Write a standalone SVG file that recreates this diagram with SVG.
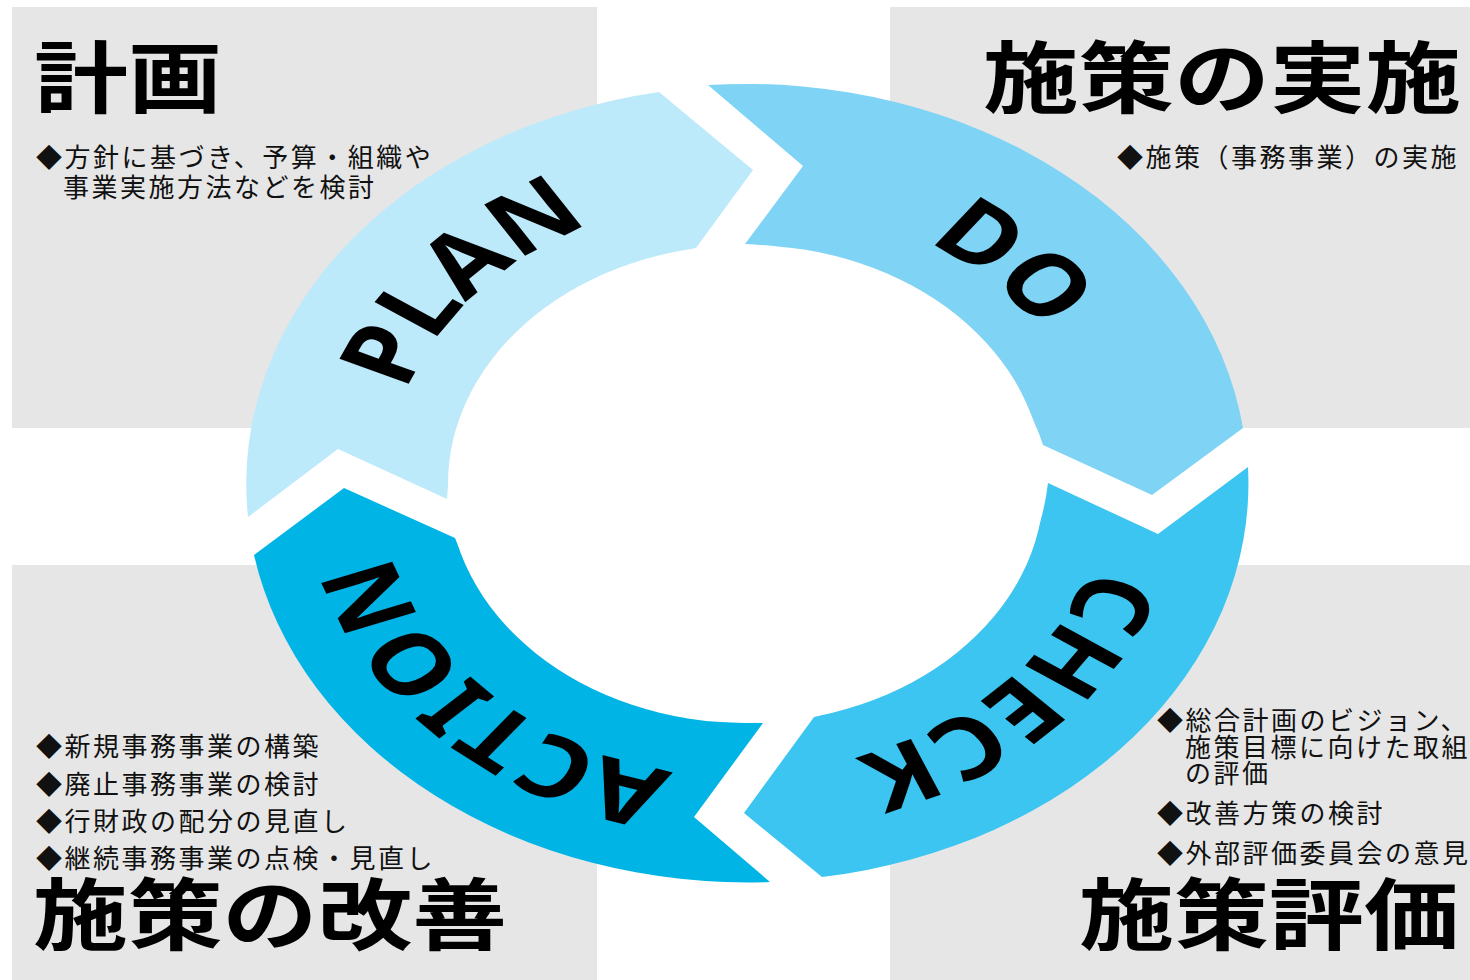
<svg xmlns="http://www.w3.org/2000/svg" xmlns:xlink="http://www.w3.org/1999/xlink" width="1470" height="980" viewBox="0 0 1470 980">
<style>
.panel{fill:#E6E6E6;}
.title{font-family:"Noto Sans CJK JP","Noto Sans CJK SC",sans-serif;font-weight:700;font-size:78px;fill:#000;}
.body{font-family:"Noto Sans CJK JP","Noto Sans CJK SC",sans-serif;font-weight:400;font-size:26px;letter-spacing:2.5px;fill:#111;}
.ring-label{font-family:"Noto Sans","DejaVu Sans",sans-serif;font-weight:700;font-size:85px;fill:#000;}
.plan{fill:#BDEAFB;}
.do{fill:#7FD3F5;}
.check{fill:#3BC5F0;}
.action{fill:#00B4E6;}
</style>
<defs>
<mask id="hole-mask" maskUnits="userSpaceOnUse" x="0" y="0" width="1470" height="980">
<rect x="0" y="0" width="1470" height="980" fill="#FFFFFF"/>
<ellipse cx="746" cy="484" rx="298" ry="239" fill="#000000"/>
</mask>
<path id="c-plan" d="M 1035 484 A 288 288 0 1 1 459 484 A 288 288 0 1 1 1035 484"/>
<path id="c-do" d="M 1028 484 A 281 281 0 1 1 466 484 A 281 281 0 1 1 1028 484"/>
<path id="c-check" d="M 1033 484 A 286 286 0 1 1 461 484 A 286 286 0 1 1 1033 484"/>
<path id="c-action" d="M 1040 484 A 293 293 0 1 1 454 484 A 293 293 0 1 1 1040 484"/>
</defs>
<rect x="0" y="0" width="1470" height="980" fill="#FFFFFF"/>

<g id="panel-plan">
<rect class="panel" x="12" y="7" width="585" height="421"/>
<text class="title" x="34" y="107" textLength="188" lengthAdjust="spacingAndGlyphs">計画</text>
<text class="body" x="36" y="167">◆方針に基づき、予算・組織や</text>
<text class="body" x="63" y="197">事業実施方法などを検討</text>
</g>

<g id="panel-do">
<rect class="panel" x="890" y="7" width="580" height="421"/>
<text class="title" x="983" y="107" textLength="478" lengthAdjust="spacingAndGlyphs">施策の実施</text>
<text class="body" x="1117" y="167">◆施策（事務事業）の実施</text>
</g>

<g id="panel-action">
<rect class="panel" x="12" y="565" width="585" height="415"/>
<text class="body" x="36" y="756">◆新規事務事業の構築</text>
<text class="body" x="36" y="794">◆廃止事務事業の検討</text>
<text class="body" x="36" y="831">◆行財政の配分の見直し</text>
<text class="body" x="36" y="868">◆継続事務事業の点検・見直し</text>
<text class="title" x="33" y="944" textLength="474" lengthAdjust="spacingAndGlyphs">施策の改善</text>
</g>

<g id="panel-check">
<rect class="panel" x="890" y="565" width="580" height="415"/>
<text class="body" x="1157" y="730">◆総合計画のビジョン、</text>
<text class="body" x="1185" y="757">施策目標に向けた取組</text>
<text class="body" x="1185" y="783">の評価</text>
<text class="body" x="1157" y="823">◆改善方策の検討</text>
<text class="body" x="1157" y="863">◆外部評価委員会の意見</text>
<text class="title" x="1079" y="944" textLength="380" lengthAdjust="spacingAndGlyphs">施策評価</text>
</g>

<ellipse id="ring-hole" cx="746" cy="484" rx="298" ry="239" fill="#FFFFFF"/>

<g id="connectors">
<g id="node-plan">
<path class="plan" mask="url(#hole-mask)" d="M 248 517 A 502 398 0 0 1 659 92 L 753 170 L 696 248 A 330 270 0 0 0 447 499 L 338 449 Z"/>
<g transform="matrix(1.25,0,0,1,-186.75,0)"><text class="ring-label" text-anchor="middle"><textPath xlink:href="#c-plan" href="#c-plan" startOffset="61.56%">PLAN</textPath></text></g>
</g>
<g id="node-do">
<path class="do" mask="url(#hole-mask)" d="M 708 85 A 502 398 0 0 1 1243 428 L 1152 495 L 1043 445 A 330 270 0 0 0 745 244 L 803 166 Z"/>
<g transform="matrix(1.25,0,0,1,-186.75,0)"><text class="ring-label" text-anchor="middle"><textPath xlink:href="#c-do" href="#c-do" startOffset="87.2%">DO</textPath></text></g>
</g>
<g id="node-check">
<path class="check" mask="url(#hole-mask)" d="M 1248 467 A 502 398 0 0 1 822 877 L 744 813 L 814 717 A 330 270 0 0 0 1048 483 L 1158 534 Z"/>
<g transform="matrix(1.25,0,0,1,-186.75,0)"><text class="ring-label" text-anchor="middle"><textPath xlink:href="#c-check" href="#c-check" startOffset="12.4%">CHECK</textPath></text></g>
</g>
<g id="node-action">
<path class="action" mask="url(#hole-mask)" d="M 770 882 A 502 398 0 0 1 254 555 L 344 488 L 455 538 A 330 270 0 0 0 763 723 L 694 817 Z"/>
<g transform="matrix(1.25,0,0,1,-186.75,0)"><text class="ring-label" text-anchor="middle"><textPath xlink:href="#c-action" href="#c-action" startOffset="37.2%">ACTION</textPath></text></g>
</g>
</g>
</svg>
